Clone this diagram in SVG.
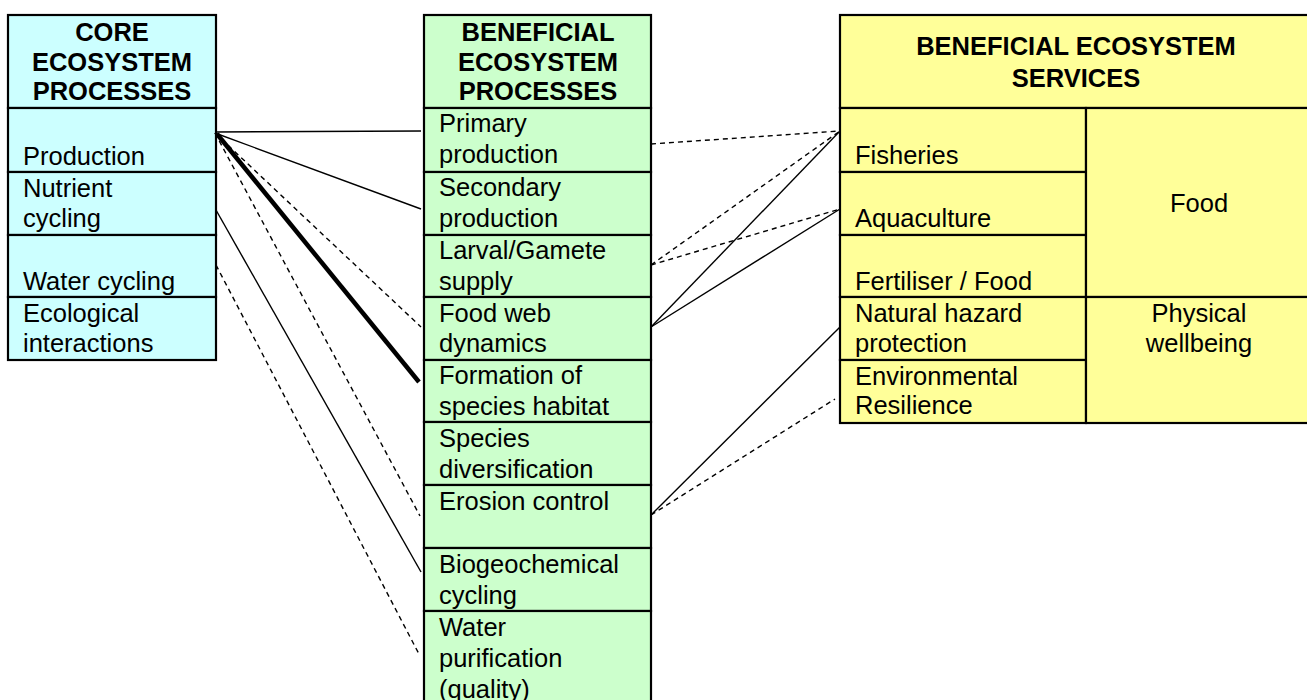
<svg xmlns="http://www.w3.org/2000/svg" width="1307" height="700" viewBox="0 0 1307 700">
<style>
.c{stroke:#000;stroke-width:2.2}
.cy{fill:#CCFFFF}.gr{fill:#CCFFCC}.ye{fill:#FFFF99}
text{font-family:"Liberation Sans",Arial,sans-serif;font-size:25.5px;fill:#000}
.h{font-weight:bold;text-anchor:middle}
.m{text-anchor:middle}
.s{stroke:#000;stroke-width:1.4;fill:none}
.d{stroke:#000;stroke-width:1.4;fill:none;stroke-dasharray:5,4}
.t{stroke:#000;stroke-width:4.5;fill:none}
</style>
<rect width="1307" height="700" fill="#fff"/>
<g id="core">
<g id="core-header"><rect class="c cy" x="8" y="15" width="208" height="93"/><text class="h" x="112" y="41">CORE</text><text class="h" x="112" y="71">ECOSYSTEM</text><text class="h" x="112" y="100">PROCESSES</text></g>
<g id="core-production"><rect class="c cy" x="8" y="108" width="208" height="64"/><text x="23" y="165">Production</text></g>
<g id="core-nutrient"><rect class="c cy" x="8" y="172" width="208" height="63"/><text x="23" y="197">Nutrient</text><text x="23" y="227">cycling</text></g>
<g id="core-water"><rect class="c cy" x="8" y="235" width="208" height="62"/><text x="23" y="290">Water cycling</text></g>
<g id="core-ecological"><rect class="c cy" x="8" y="297" width="208" height="63"/><text x="23" y="322">Ecological</text><text x="23" y="352">interactions</text></g>
</g>
<g id="beneficial-processes">
<g id="bp-header"><rect class="c gr" x="424" y="15" width="227" height="93"/><text class="h" x="538" y="41">BENEFICIAL</text><text class="h" x="538" y="71">ECOSYSTEM</text><text class="h" x="538" y="100">PROCESSES</text></g>
<g id="bp-primary"><rect class="c gr" x="424" y="108" width="227" height="64"/><text x="439" y="132">Primary</text><text x="439" y="163">production</text></g>
<g id="bp-secondary"><rect class="c gr" x="424" y="172" width="227" height="63"/><text x="439" y="196">Secondary</text><text x="439" y="227">production</text></g>
<g id="bp-larval"><rect class="c gr" x="424" y="235" width="227" height="62"/><text x="439" y="259">Larval/Gamete</text><text x="439" y="290">supply</text></g>
<g id="bp-foodweb"><rect class="c gr" x="424" y="297" width="227" height="63"/><text x="439" y="322">Food web</text><text x="439" y="352">dynamics</text></g>
<g id="bp-habitat"><rect class="c gr" x="424" y="360" width="227" height="62"/><text x="439" y="384">Formation of</text><text x="439" y="415">species habitat</text></g>
<g id="bp-diversification"><rect class="c gr" x="424" y="422" width="227" height="63"/><text x="439" y="447">Species</text><text x="439" y="478">diversification</text></g>
<g id="bp-erosion"><rect class="c gr" x="424" y="485" width="227" height="63"/><text x="439" y="510">Erosion control</text></g>
<g id="bp-biogeochemical"><rect class="c gr" x="424" y="548" width="227" height="63"/><text x="439" y="573">Biogeochemical</text><text x="439" y="604">cycling</text></g>
<g id="bp-purification"><rect class="c gr" x="424" y="611" width="227" height="110"/><text x="439" y="636">Water</text><text x="439" y="667">purification</text><text x="439" y="698">(quality)</text></g>
</g>
<g id="services">
<g id="sv-header"><rect class="c ye" x="840" y="15" width="472" height="93"/><text class="h" x="1076" y="55">BENEFICIAL ECOSYSTEM</text><text class="h" x="1076" y="87">SERVICES</text></g>
<g id="sv-fisheries"><rect class="c ye" x="840" y="108" width="246" height="64"/><text x="855" y="164">Fisheries</text></g>
<g id="sv-aquaculture"><rect class="c ye" x="840" y="172" width="246" height="63"/><text x="855" y="227">Aquaculture</text></g>
<g id="sv-fertiliser"><rect class="c ye" x="840" y="235" width="246" height="62"/><text x="855" y="290">Fertiliser / Food</text></g>
<g id="sv-hazard"><rect class="c ye" x="840" y="297" width="246" height="63"/><text x="855" y="322">Natural hazard</text><text x="855" y="352">protection</text></g>
<g id="sv-resilience"><rect class="c ye" x="840" y="360" width="246" height="63"/><text x="855" y="385">Environmental</text><text x="855" y="414">Resilience</text></g>
<g id="sv-food"><rect class="c ye" x="1086" y="108" width="226" height="189"/><text class="m" x="1199" y="212">Food</text></g>
<g id="sv-physical"><rect class="c ye" x="1086" y="297" width="226" height="126"/><text class="m" x="1199" y="322">Physical</text><text class="m" x="1199" y="352">wellbeing</text></g>
</g>
<g id="connectors">
<line class="s" x1="215" y1="132" x2="421" y2="131"/>
<line class="s" x1="215" y1="133" x2="421" y2="209"/>
<line class="d" x1="215" y1="133" x2="421" y2="327"/>
<line class="t" x1="217" y1="134" x2="419" y2="382"/>
<line class="d" x1="215" y1="133" x2="420" y2="516"/>
<line class="s" x1="216" y1="210" x2="421" y2="572"/>
<line class="d" x1="216" y1="265" x2="420" y2="656"/>
<line class="d" x1="651" y1="144" x2="840" y2="131"/>
<line class="d" x1="651" y1="265" x2="840" y2="131"/>
<line class="d" x1="651" y1="265" x2="840" y2="209"/>
<line class="s" x1="651" y1="327" x2="840" y2="131"/>
<line class="s" x1="651" y1="327" x2="840" y2="209"/>
<line class="s" x1="651" y1="515" x2="840" y2="327"/>
<line class="d" x1="651" y1="515" x2="835" y2="399"/>
</g>
</svg>
